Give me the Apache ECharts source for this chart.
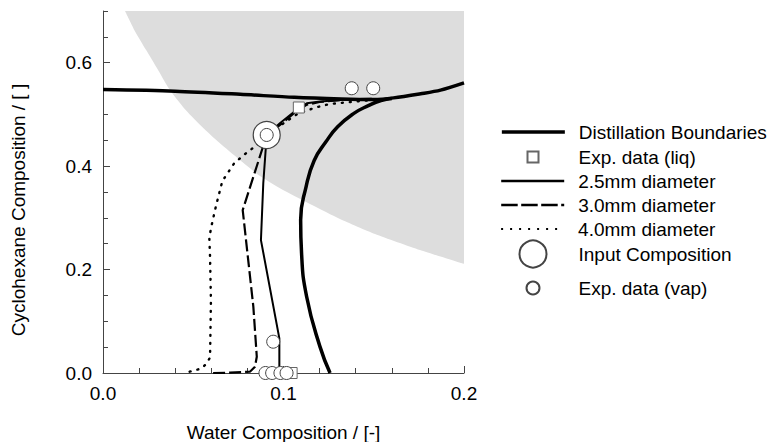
<!DOCTYPE html>
<html>
<head>
<meta charset="utf-8">
<script src="https://cdn.jsdelivr.net/npm/echarts@6/dist/echarts.min.js"></script>
<style>
html,body{margin:0;padding:0;background:#fff;}
#chart{width:770px;height:442px;}
</style>
</head>
<body>
<div id="chart"></div>
<script>
// ---- data ----
const xTickValues = [0, 0.1, 0.2];
const yTickValues = [0, 0.2, 0.4, 0.6];

const grayRegion = [[0.0122,0.700],[0.0177,0.661],[0.0238,0.625],[0.0305,0.586],[0.0371,0.547],[0.0449,0.512],[0.0537,0.480],[0.0632,0.449],[0.0737,0.418],[0.0870,0.381],[0.1008,0.352],[0.1158,0.325],[0.1313,0.298],[0.1507,0.269],[0.1756,0.238],[0.2,0.211]];

const boundaryTop = [[0,0.548],[0.04,0.545],[0.076,0.539],[0.106,0.533],[0.132,0.530],[0.150,0.529],[0.161,0.532],[0.176,0.540],[0.187,0.547],[0.2,0.561]];
const boundaryLower = [[0.160,0.531],[0.154,0.527],[0.147,0.517],[0.139,0.502],[0.130,0.476],[0.1235,0.447],[0.117,0.411],[0.1125,0.360],[0.1095,0.296],[0.110,0.232],[0.1128,0.148],[0.1202,0.051],[0.1258,0.0]];

const d25 = [[0.0977,0.0],[0.0977,0.067],[0.0875,0.257],[0.0888,0.367],[0.0907,0.460],[0.098,0.483],[0.1073,0.509],[0.1129,0.5216],[0.1202,0.5248],[0.135,0.529],[0.150,0.530]];
const d30 = [[0.061,0.0],[0.0704,0.0006],[0.0814,0.0025],[0.0842,0.012],[0.0852,0.0315],[0.0833,0.128],[0.0774,0.315],[0.0907,0.460],[0.099,0.482],[0.107,0.506],[0.113,0.519],[0.120,0.524],[0.135,0.529],[0.150,0.530]];
const d40 = [[0.048,0.0025],[0.0547,0.009],[0.0575,0.0188],[0.0593,0.03],[0.0598,0.14],[0.0593,0.225],[0.0589,0.262],[0.0602,0.286],[0.0626,0.323],[0.0661,0.371],[0.0727,0.4056],[0.0796,0.426],[0.0907,0.455],[0.100,0.483],[0.1082,0.502],[0.1184,0.514],[0.1254,0.520],[0.1359,0.5236],[0.150,0.528]];

const expLiq = [[0.1085,0.5134],[0.1045,0.0]];
const inputComp = [[0.0907,0.4603]];
const expVap = [[0.1378,0.5506],[0.1497,0.5506],[0.0907,0.4603],[0.0943,0.0605],[0.0900,0.0],[0.0937,0.0],[0.0983,0.0],[0.1017,0.0]];

const names = ['Distillation Boundaries','Exp. data (liq)','2.5mm diameter','3.0mm diameter','4.0mm diameter','Input Composition','Exp. data (vap)'];

// ---- chart ----
const FONT = "'Liberation Sans', Arial, Helvetica, sans-serif";
const AX = '#444';
const chart = echarts.init(document.getElementById('chart'), null, {renderer:'svg'});

const TXT = {fontSize:19, color:'#000', fontFamily:FONT};
function lineLegend(name, cy, width, type){
  return {
    show:true, left:500, top:cy - 9.5, orient:'vertical', itemWidth:63, itemHeight:14,
    selectedMode:false, data:[name], padding:0,
    itemStyle:{opacity:0},
    lineStyle:{width:width, type:type, color:'#000', cap:'butt'},
    textStyle:Object.assign({padding:[0,0,0,9]}, TXT)
  };
}
function symLegend(name, cy, size, iconW, left, pad){
  return {
    show:true, left:left, top:cy - Math.max(size,19)/2, orient:'vertical', itemWidth:iconW, itemHeight:size,
    selectedMode:false, data:[name], padding:0,
    textStyle:Object.assign({padding:[0,0,0,pad]}, TXT)
  };
}
const legends = [
  lineLegend(names[0], 132, 3.7, 'solid'),
  symLegend(names[1], 157, 11, 11, 526.5, 35),
  lineLegend(names[2], 181, 2.4, 'solid'),
  lineLegend(names[3], 205, 2.4, [16.5,3.5]),
  lineLegend(names[4], 229, 2.2, [2,7]),
  symLegend(names[5], 253, 27, 63, 518.5, 9),
  symLegend(names[6], 288, 13, 63, 525.5, 9)
];

const option = {
  animation:false,
  backgroundColor:'#fff',
  grid:{left:103, top:11, width:361, height:362, containLabel:false, outerBoundsMode:'none'},
  legend: legends,
  xAxis:{
    type:'value', min:0, max:0.2, interval:0.1,
    name:'Water Composition / [-]', nameLocation:'middle', nameGap:50,
    nameTextStyle:TXT,
    axisLine:{show:true, onZero:false, lineStyle:{color:AX, width:1}},
    axisTick:{show:true, inside:true, length:7, lineStyle:{color:AX}},
    minorTick:{show:true, splitNumber:5, length:5, lineStyle:{color:AX}},
    splitLine:{show:false}, minorSplitLine:{show:false},
    axisLabel:Object.assign({margin:11,
      formatter:(v)=> xTickValues.some(t=>Math.abs(t-v)<1e-9) ? v.toFixed(1) : ''}, TXT)
  },
  yAxis:[{
    type:'value', min:0, max:0.7, interval:0.05,
    axisLine:{show:true, onZero:false, lineStyle:{color:AX, width:1}},
    axisTick:{show:true, inside:true, length:5, lineStyle:{color:AX}},
    axisLabel:{show:false},
    splitLine:{show:false}
  },{
    type:'value', min:0, max:0.7, position:'left',
    axisLine:{show:false},
    axisTick:{show:true, inside:true, length:7, customValues:yTickValues, lineStyle:{color:AX}},
    axisLabel:Object.assign({show:true, customValues:yTickValues, margin:11,
      formatter:(v)=>v.toFixed(1)}, TXT),
    splitLine:{show:false}
  }],
  graphic:[{
    type:'text', x:18.5, y:210, rotation:Math.PI/2,
    style:{text:'Cyclohexane Composition / [ ]', fontSize:19, fontFamily:FONT, fill:'#000',
      align:'center', verticalAlign:'middle', textAlign:'center', textVerticalAlign:'middle'}
  }],
  series:[
    {type:'line', name:'region', data:grayRegion, symbol:'none', smooth:0.2, silent:true, z:0,
      lineStyle:{width:0}, areaStyle:{origin:'end', color:'#dddddd', opacity:1}},
    {type:'line', name:names[0], data:boundaryTop, symbol:'none', smooth:0.3, z:3,
      lineStyle:{color:'#000', width:3.5}, itemStyle:{color:'#000'}},
    {type:'line', name:names[0], data:boundaryLower, symbol:'none', smooth:0.5, z:3,
      lineStyle:{color:'#000', width:3.5}, itemStyle:{color:'#000'}},
    {type:'line', name:names[2], data:d25, symbol:'none', z:4,
      lineStyle:{color:'#000', width:2}, itemStyle:{color:'#000'}},
    {type:'line', name:names[3], data:d30, symbol:'none', z:4,
      lineStyle:{color:'#000', width:2.2, type:[12,4]}, itemStyle:{color:'#000'}},
    {type:'line', name:names[4], data:d40, symbol:'none', z:4,
      lineStyle:{color:'#000', width:2.4, type:[1,7], cap:'round'}, itemStyle:{color:'#000'}},
    {type:'scatter', name:names[5], data:inputComp, symbol:'circle', symbolSize:27, z:5, clip:false,
      itemStyle:{color:'#fff', borderColor:'#444', borderWidth:1.2, opacity:1}},
    {type:'scatter', name:names[1], data:expLiq, symbol:'rect', symbolSize:11, z:6, clip:false,
      itemStyle:{color:'#fff', borderColor:'#666', borderWidth:1, opacity:1}},
    {type:'scatter', name:names[6], data:expVap, symbol:'circle', symbolSize:13, z:7, clip:false,
      itemStyle:{color:'#fff', borderColor:'#444', borderWidth:1, opacity:1}}
  ]
};
chart.setOption(option);
</script>
</body>
</html>
